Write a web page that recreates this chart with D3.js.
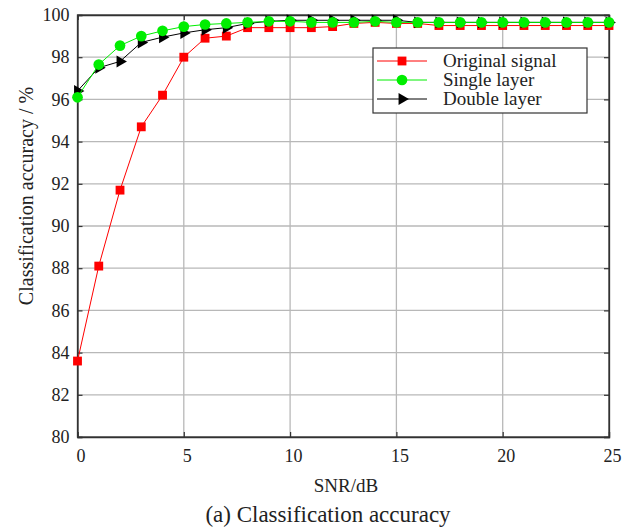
<!DOCTYPE html>
<html>
<head>
<meta charset="utf-8">
<script src="https://cdn.jsdelivr.net/npm/d3@7.9.0/dist/d3.min.js"></script>
<style>
  body { margin: 0; background: #fff; }
  svg text { font-family: "Liberation Serif", "Times New Roman", serif; fill: #222; }
</style>
</head>
<body>
<svg id="chart" width="636" height="529"></svg>
<script>
// data
const snr = d3.range(0, 26);
const original = [83.6, 88.1, 91.7, 94.7, 96.2, 98.0, 98.9, 99.0, 99.4, 99.4, 99.4, 99.4, 99.45, 99.6, 99.65, 99.6, 99.6, 99.5, 99.5, 99.5, 99.5, 99.5, 99.5, 99.5, 99.5, 99.5];
const single = [96.1, 97.65, 98.55, 99.0, 99.25, 99.45, 99.55, 99.6, 99.65, 99.7, 99.7, 99.65, 99.65, 99.65, 99.7, 99.65, 99.65, 99.65, 99.65, 99.65, 99.65, 99.65, 99.65, 99.65, 99.65, 99.65];
const double = [96.4, 97.5, 97.8, 98.7, 98.95, 99.15, 99.3, 99.4, 99.6, 99.7, 99.75, 99.75, 99.75, 99.75, 99.75, 99.75, 99.65, 99.65, 99.65, 99.65, 99.65, 99.65, 99.65, 99.65, 99.65, 99.65];
const xTicks = [0, 5, 10, 15, 20, 25];
const yTicks = [80, 82, 84, 86, 88, 90, 92, 94, 96, 98, 100];
const seriesNames = ["Original signal", "Single layer", "Double layer"];

const svg = d3.select("#chart");
const pLeft = 77.5, pRight = 609, pTop = 15, pBottom = 437;

const x = d3.scaleLinear().domain([0, 25]).range([pLeft, pRight]);
const y = d3.scaleLinear().domain([80, 100]).range([pBottom, pTop]);

// grid
svg.append("g").selectAll("line").data(xTicks.slice(1, -1)).join("line")
  .attr("x1", d => x(d)).attr("x2", d => x(d)).attr("y1", pTop).attr("y2", pBottom)
  .attr("stroke", "#b8b8b8").attr("stroke-width", 1.3);
svg.append("g").selectAll("line").data(yTicks.slice(1, -1)).join("line")
  .attr("x1", pLeft).attr("x2", pRight).attr("y1", d => y(d)).attr("y2", d => y(d))
  .attr("stroke", "#b8b8b8").attr("stroke-width", 1.3);

// axes
const gx = svg.append("g").attr("transform", `translate(0,${pBottom})`)
  .call(d3.axisBottom(x).tickValues(xTicks).tickSize(-5).tickPadding(12));
gx.selectAll(".tick text").attr("dx", 3);
svg.append("g").attr("transform", `translate(${pLeft},0)`)
  .call(d3.axisLeft(y).tickValues(yTicks).tickSize(-5).tickPadding(8));
svg.append("g").attr("transform", `translate(0,${pTop})`)
  .call(d3.axisTop(x).tickValues(xTicks).tickSize(-5).tickFormat(""));
svg.append("g").attr("transform", `translate(${pRight},0)`)
  .call(d3.axisRight(y).tickValues(yTicks).tickSize(-5).tickFormat(""));
svg.selectAll(".domain").attr("stroke", "#333").attr("stroke-width", 1.3);
svg.selectAll(".tick line").attr("stroke", "#333").attr("stroke-width", 1.2);
svg.selectAll(".tick text").style("font-size", "18px").attr("fill", "#222");
svg.append("rect").attr("x", pLeft).attr("y", pTop).attr("width", pRight - pLeft).attr("height", pBottom - pTop)
  .attr("fill", "none").attr("stroke", "#333").attr("stroke-width", 1.3);

// labels
svg.append("text").attr("x", 346).attr("y", 492).attr("text-anchor", "middle")
  .style("font-size", "19px").text("SNR/dB");
svg.append("text").attr("transform", "translate(33,196) rotate(-90)")
  .attr("text-anchor", "middle").style("font-size", "20px").text("Classification accuracy / %");
svg.append("text").attr("x", 328).attr("y", 522).attr("text-anchor", "middle")
  .style("font-size", "23px").text("(a) Classification accuracy");

const line = d3.line().x((d, i) => x(snr[i])).y(d => y(d));
const sq = d3.symbol().type(d3.symbolSquare).size(78);
const circ = d3.symbol().type(d3.symbolCircle).size(90);
const tri = d3.symbol().type(d3.symbolTriangle).size(62);

function drawSeries(vals, color, sym, rot) {
  const g = svg.append("g");
  g.append("path").datum(vals).attr("d", line).attr("fill", "none")
    .attr("stroke", color).attr("stroke-width", 1);
  g.selectAll("path.m").data(vals).join("path").attr("class", "m")
    .attr("d", sym)
    .attr("transform", (d, i) => `translate(${x(snr[i])},${y(d)}) rotate(${rot})`)
    .attr("fill", color);
}
drawSeries(original, "#ff0000", sq, 0);
drawSeries(double, "#000", tri, 90);
drawSeries(single, "#00ee00", circ, 0);

// legend
const lg = svg.append("g").attr("transform", "translate(373,48)");
lg.append("rect").attr("width", 214).attr("height", 65).attr("fill", "#fff")
  .attr("stroke", "#333").attr("stroke-width", 1.2);
const legendItems = [
  { name: seriesNames[0], color: "#ff0000", sym: sq, rot: 0 },
  { name: seriesNames[1], color: "#00ee00", sym: circ, rot: 0 },
  { name: seriesNames[2], color: "#000", sym: tri, rot: 90 }
];
legendItems.forEach((d, i) => {
  const yy = 13 + i * 19;
  lg.append("line").attr("x1", 4).attr("x2", 54).attr("y1", yy).attr("y2", yy)
    .attr("stroke", d.color).attr("stroke-width", 1);
  lg.append("path").attr("d", d.sym).attr("fill", d.color)
    .attr("transform", `translate(29,${yy}) rotate(${d.rot})`);
  lg.append("text").attr("x", 70).attr("y", yy + 6).style("font-size", "19px").text(d.name);
});
</script>
</body>
</html>
